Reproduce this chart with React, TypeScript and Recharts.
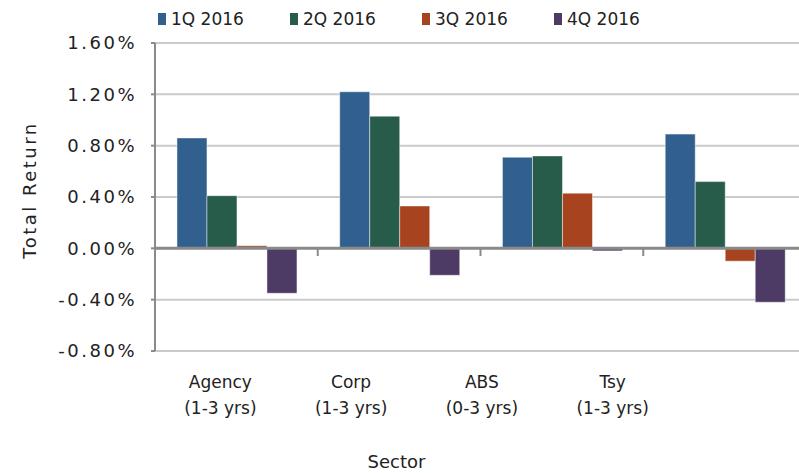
import React from "react";
import {
	BarChart,
	Bar,
	XAxis,
	YAxis,
	CartesianGrid,
	ReferenceLine,
	Legend,
} from "recharts";

const categories = ["Agency", "Corp", "ABS", "Tsy"];
const terms = ["(1-3 yrs)", "(1-3 yrs)", "(0-3 yrs)", "(1-3 yrs)"];
const seriesNames = ["1Q 2016", "2Q 2016", "3Q 2016", "4Q 2016"];
const q1 = [0.86, 1.22, 0.71, 0.89];
const q2 = [0.41, 1.03, 0.72, 0.52];
const q3 = [0.02, 0.33, 0.43, -0.1];
const q4 = [-0.35, -0.21, -0.02, -0.42];
const yTicks = [-0.8, -0.4, 0, 0.4, 0.8, 1.2, 1.6];
// category boundaries on the zero line (Excel style tick marks)
const boundaries = [1, 2, 3];

const colors = ["#31608f", "#275c4b", "#a7431e", "#4d3a65"];
const font = "'DejaVu Sans', Verdana, sans-serif";

const data = categories.map((c, i) => ({
	category: c,
	idx: i,
	q1: q1[i],
	q2: q2[i],
	q3: q3[i],
	q4: q4[i],
}));

const keys = ["q1", "q2", "q3", "q4"];

function LegendContent({ payload }: any) {
	return (
		<div
			style={{
				display: "flex",
				paddingLeft: 158,
				height: 38,
				alignItems: "center",
				fontFamily: font,
				fontSize: 17,
				color: "#222",
			}}
		>
			{(payload || []).map((p: any) => (
				<div
					key={p.value}
					style={{ width: 132, display: "flex", alignItems: "center" }}
				>
					<span
						style={{
							display: "inline-block",
							width: 8,
							height: 12,
							background: p.color,
							marginRight: 5,
						}}
					/>
					<span>{p.value}</span>
				</div>
			))}
		</div>
	);
}

function SectorTick({ x, y, payload, index }: any) {
	return (
		<text
			x={x}
			y={y}
			textAnchor="middle"
			fontSize={17}
			fill="#222"
			fontFamily={font}
		>
			<tspan x={x} dy={37}>
				{payload.value}
			</tspan>
			<tspan x={x} dy={26}>
				{terms[index]}
			</tspan>
		</text>
	);
}

function SectorLabel({ viewBox }: any) {
	const { x, y, width, height } = viewBox;
	return (
		<text
			x={x + width / 2 - 84}
			y={y + height - 5}
			textAnchor="middle"
			fontSize={18}
			fill="#222"
			fontFamily={font}
		>
			Sector
		</text>
	);
}

function ReturnLabel({ viewBox }: any) {
	const cx = viewBox.x + 36;
	const cy = viewBox.y + viewBox.height / 2 - 7;
	return (
		<text
			x={cx}
			y={cy}
			transform={`rotate(-90, ${cx}, ${cy})`}
			textAnchor="middle"
			fontSize={18}
			letterSpacing={2.5}
			fill="#222"
			fontFamily={font}
		>
			Total Return
		</text>
	);
}

export default function App() {
	return (
		<div
			style={{
				position: "absolute",
				left: 0,
				top: 0,
				width: 799,
				height: 473,
				overflow: "hidden",
				background: "#fff",
			}}
		>
			<BarChart
				width={812}
				height={473}
				data={data}
				margin={{ top: 5, right: 6, bottom: 0, left: 0 }}
				barCategoryGap="13.5%"
				barGap={0}
				style={{ fontFamily: font }}
			>
				<CartesianGrid vertical={false} stroke="#cacaca" strokeWidth={2} />
				<XAxis xAxisId="bars" dataKey="category" height={0} hide />
				<XAxis
					xAxisId="bounds"
					dataKey="idx"
					type="number"
					domain={[0, categories.length]}
					ticks={[0, 1, 2, 3, 4]}
					allowDataOverflow
					height={0}
					hide
				/>
				<XAxis
					xAxisId="labels"
					dataKey="category"
					height={122}
					padding={{ left: 0, right: 128 }}
					axisLine={false}
					tickLine={false}
					tickSize={0}
					tickMargin={0}
					interval={0}
					tick={<SectorTick />}
					label={<SectorLabel />}
				/>
				<YAxis
					width={155}
					domain={[-0.8, 1.6]}
					ticks={yTicks}
					interval={0}
					tickFormatter={(v: number) => v.toFixed(2) + "%"}
					tick={{ fontSize: 18, fill: "#222", letterSpacing: 2.5 }}
					axisLine={{ stroke: "#8a8a8a", strokeWidth: 2 }}
					tickLine={{ stroke: "#8a8a8a", strokeWidth: 2 }}
					tickSize={4}
					tickMargin={14}
					label={<ReturnLabel />}
				/>
				<Legend
					verticalAlign="top"
					align="left"
					content={<LegendContent />}
					wrapperStyle={{ top: 0, left: 0 }}
				/>
				{keys.map((k, i) => (
					<Bar
						key={k}
						xAxisId="bars"
						dataKey={k}
						name={seriesNames[i]}
						fill={colors[i]}
						stroke="rgba(255,255,255,0.45)"
						strokeWidth={1}
						isAnimationActive={false}
					/>
				))}
				<ReferenceLine
					xAxisId="bars"
					y={0}
					stroke="#8a8a8a"
					strokeWidth={3}
				/>
				{boundaries.map((b) => (
					<ReferenceLine
						key={b}
						xAxisId="bounds"
						segment={[
							{ x: b, y: 0 },
							{ x: b, y: -0.06 },
						]}
						stroke="#8a8a8a"
						strokeWidth={2}
						ifOverflow="visible"
					/>
				))}
			</BarChart>
		</div>
	);
}
